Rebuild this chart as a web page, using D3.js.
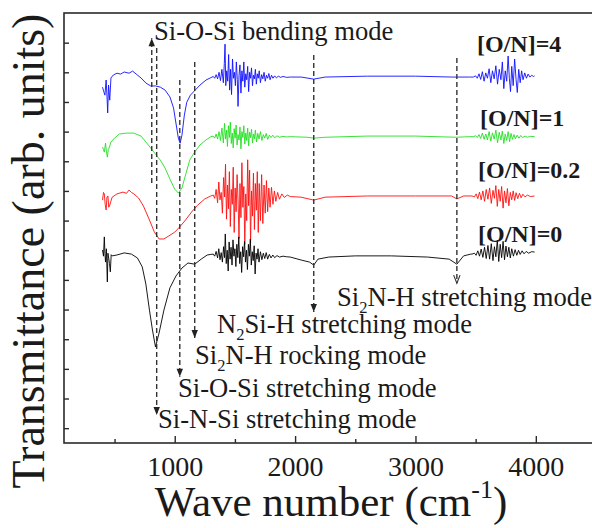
<!DOCTYPE html>
<html><head><meta charset="utf-8">
<script src="https://cdn.jsdelivr.net/npm/d3@7"></script>
<style>
body{margin:0;background:#fff}
svg{display:block}
text{font-family:"Liberation Serif","Times New Roman",serif;fill:#1a1a1a}
</style>
</head><body>
<svg id="chart" width="592" height="528"></svg>
<script>
// ---------------- data ----------------
const majorTicks = [1000, 2000, 3000, 4000];
const minorTicks = [500, 1500, 2500, 3500, 4500];
const yTickValues = d3.range(0.5, 14, 1);
const seriesNames = ["[O/N]=4", "[O/N]=1", "[O/N]=0.2", "[O/N]=0"];

// [wavenumber cm-1, transmittance (arb. units, offset)]
const specON4 = [[400,12.00],[410,11.85],[420,11.73],[430,12.24],[437,11.70],[443,11.13],[450,12.07],[460,11.56],[470,12.31],[490,12.41],[520,12.47],[550,12.44],[580,12.51],[620,12.47],[650,12.54],[680,12.44],[720,12.31],[760,12.14],[800,12.04],[840,12.04],[880,12.00],[920,11.90],[960,11.67],[990,11.30],[1010,10.79],[1030,10.28],[1045,10.11],[1060,10.38],[1080,11.06],[1100,11.49],[1130,11.73],[1170,11.90],[1210,12.07],[1260,12.24],[1300,12.32],
[1320,12.36],[1332,12.30],[1344,12.42],[1356,12.28],[1368,12.50],[1380,12.22],[1392,12.60],[1404,12.15],[1412,12.80],[1418,13.45],[1424,12.05],[1432,12.55],[1440,12.20],[1448,13.10],[1456,11.90],[1464,12.60],[1472,11.75],[1480,12.95],[1488,12.30],[1496,12.50],[1504,12.05],[1512,12.85],[1520,12.25],[1526,11.35],[1534,12.40],[1542,12.75],[1550,11.80],[1558,12.55],[1566,12.20],[1574,12.85],[1582,12.00],[1590,12.45],[1598,12.25],[1606,12.70],[1614,11.85],[1622,12.50],[1630,12.30],[1638,12.65],[1646,12.05],[1654,12.40],[1662,12.28],[1670,12.60],[1678,12.10],[1686,12.45],[1694,12.30],[1702,12.55],[1712,12.15],[1722,12.42],[1732,12.28],[1742,12.50],[1752,12.20],[1762,12.40],[1772,12.30],[1782,12.46],[1792,12.25],[1804,12.40],[1816,12.30],[1830,12.38],[1845,12.31],[1860,12.37],[1880,12.33],[1900,12.36],[1930,12.33],[1960,12.34],
[2050,12.34],[2155,12.27],[2250,12.34],[2600,12.37],[3000,12.37],[3300,12.34],[3450,12.34],
[3480,12.34],[3500,12.38],[3514,12.30],[3528,12.45],[3542,12.26],[3556,12.52],[3570,12.20],[3584,12.48],[3598,12.30],[3612,12.62],[3626,12.15],[3640,12.55],[3654,12.28],[3668,12.72],[3682,12.10],[3696,12.60],[3710,12.25],[3722,12.85],[3734,11.95],[3746,12.55],[3758,12.20],[3770,13.05],[3780,12.30],[3790,11.85],[3800,12.70],[3812,12.05],[3824,12.95],[3836,12.25],[3846,11.82],[3858,12.60],[3870,12.15],[3882,12.55],[3894,12.25],[3908,12.48],[3922,12.30],[3936,12.44],[3950,12.34],[3966,12.40],[3980,12.36],[3990,12.38]];

const specON1 = [[400,9.98],[408,9.90],[415,9.81],[425,10.11],[432,9.85],[440,9.64],[448,9.90],[455,9.95],[470,10.15],[500,10.28],[540,10.42],[600,10.45],[660,10.45],[720,10.35],[760,10.15],[800,9.95],[840,9.74],[880,9.54],[920,9.27],[960,8.90],[1000,8.56],[1030,8.43],[1060,8.60],[1090,9.04],[1125,9.54],[1165,9.81],[1210,10.05],[1260,10.22],[1300,10.33],
[1320,10.35],[1332,10.28],[1344,10.42],[1356,10.25],[1368,10.50],[1380,10.20],[1392,10.62],[1404,10.12],[1414,10.78],[1422,10.25],[1430,10.55],[1438,10.00],[1446,10.70],[1454,10.30],[1462,10.82],[1470,10.10],[1478,10.45],[1486,9.95],[1494,10.60],[1502,10.28],[1510,10.72],[1518,10.05],[1526,10.40],[1534,10.22],[1542,10.66],[1550,9.92],[1558,10.50],[1566,10.30],[1574,10.70],[1582,10.08],[1590,10.45],[1598,10.20],[1606,10.62],[1614,10.02],[1622,10.48],[1630,10.30],[1638,10.58],[1646,10.12],[1654,10.42],[1662,10.26],[1670,10.55],[1680,10.15],[1690,10.44],[1700,10.25],[1712,10.50],[1724,10.20],[1736,10.40],[1748,10.28],[1760,10.44],[1772,10.24],[1786,10.38],[1800,10.30],[1815,10.38],[1830,10.29],[1850,10.36],[1870,10.31],[1900,10.34],[1930,10.32],[1960,10.33],
[2100,10.31],[2155,10.28],[2250,10.31],[2600,10.35],[3000,10.35],[3340,10.31],[3450,10.33],
[3480,10.33],[3500,10.36],[3514,10.30],[3528,10.40],[3542,10.27],[3556,10.45],[3570,10.24],[3584,10.42],[3598,10.22],[3612,10.50],[3626,10.18],[3640,10.46],[3654,10.25],[3668,10.55],[3682,10.12],[3696,10.48],[3710,10.22],[3722,10.52],[3734,10.10],[3746,10.42],[3758,10.20],[3770,10.50],[3782,10.16],[3794,10.44],[3806,10.24],[3818,10.40],[3830,10.26],[3845,10.38],[3860,10.28],[3875,10.37],[3890,10.30],[3910,10.35],[3930,10.31],[3955,10.34],[3990,10.33]];

const specON02 = [[400,8.19],[408,8.45],[415,8.40],[422,8.05],[430,7.86],[437,8.30],[445,8.33],[452,7.95],[460,8.02],[480,8.29],[520,8.40],[570,8.46],[600,8.42],[620,8.53],[640,8.45],[660,8.40],[700,8.26],[740,7.99],[790,7.52],[830,7.12],[870,6.88],[910,6.88],[950,6.98],[1000,7.11],[1040,7.28],[1090,7.52],[1140,7.79],[1190,8.02],[1250,8.23],[1300,8.33],
[1320,8.36],[1332,8.25],[1344,8.55],[1356,8.10],[1366,8.80],[1376,8.20],[1386,8.45],[1396,7.75],[1406,8.95],[1414,8.30],[1422,9.40],[1430,7.55],[1438,8.70],[1446,7.90],[1454,9.15],[1462,7.30],[1470,8.55],[1478,8.05],[1486,9.30],[1494,7.10],[1502,8.60],[1510,7.80],[1518,9.05],[1526,8.20],[1534,6.90],[1542,8.75],[1550,7.60],[1558,9.45],[1566,7.95],[1574,8.65],[1582,6.70],[1590,8.40],[1598,7.50],[1606,9.55],[1614,8.00],[1622,9.20],[1630,6.75],[1638,8.50],[1646,7.65],[1654,9.10],[1662,7.20],[1670,8.75],[1678,7.85],[1686,9.15],[1694,7.10],[1702,8.75],[1712,7.50],[1722,9.05],[1732,7.40],[1742,8.70],[1752,7.75],[1762,8.85],[1772,7.80],[1782,8.60],[1792,7.95],[1804,8.62],[1816,8.05],[1828,8.50],[1840,8.15],[1855,8.45],[1870,8.22],[1890,8.40],[1910,8.28],[1935,8.36],[1960,8.31],
[2050,8.29],[2155,8.19],[2250,8.29],[2600,8.33],[3000,8.33],[3300,8.33],[3344,8.23],[3400,8.33],
[3470,8.33],[3490,8.30],[3504,8.40],[3518,8.24],[3532,8.46],[3546,8.20],[3560,8.50],[3574,8.15],[3588,8.55],[3602,8.22],[3616,8.60],[3630,8.08],[3644,8.52],[3656,8.25],[3668,8.68],[3680,7.98],[3692,8.55],[3704,8.15],[3716,8.65],[3728,7.92],[3740,8.50],[3752,8.10],[3764,8.58],[3776,8.00],[3788,8.45],[3800,8.20],[3812,8.50],[3824,8.18],[3836,8.44],[3850,8.24],[3864,8.42],[3878,8.27],[3892,8.39],[3910,8.30],[3930,8.36],[3955,8.31],[3990,8.33]];

const specON0 = [[400,6.51],[408,6.30],[415,6.95],[420,6.40],[425,6.10],[432,6.55],[440,5.43],[445,6.40],[450,6.27],[458,6.05],[465,5.77],[472,6.35],[480,6.31],[520,6.34],[580,6.41],[640,6.37],[690,6.24],[730,5.94],[760,5.36],[790,4.48],[815,3.81],[840,3.24],[870,3.71],[910,4.48],[960,5.23],[1010,5.63],[1060,5.90],[1110,6.07],[1166,6.03],[1220,6.20],[1270,6.34],[1300,6.36],
[1320,6.37],[1332,6.30],[1344,6.46],[1356,6.24],[1366,6.55],[1376,6.18],[1386,6.42],[1396,6.10],[1406,6.62],[1414,6.25],[1420,7.05],[1428,6.05],[1436,6.50],[1444,5.80],[1452,6.78],[1460,6.20],[1468,6.60],[1476,6.00],[1484,6.85],[1492,6.30],[1500,6.55],[1508,5.95],[1516,6.70],[1524,6.25],[1532,6.95],[1540,6.05],[1548,6.45],[1556,5.75],[1564,6.62],[1572,6.28],[1580,6.80],[1588,6.10],[1596,6.50],[1604,5.85],[1612,6.70],[1620,6.30],[1628,6.88],[1636,6.00],[1644,6.45],[1652,6.15],[1660,6.65],[1668,5.70],[1676,6.40],[1684,6.20],[1692,6.55],[1700,6.10],[1712,6.45],[1724,6.18],[1736,6.40],[1748,6.22],[1760,6.42],[1772,6.20],[1786,6.36],[1800,6.24],[1815,6.34],[1830,6.25],[1850,6.32],[1870,6.27],[1900,6.30],[1930,6.28],[1960,6.27],
[2050,6.17],[2120,6.10],[2155,6.00],[2190,6.20],[2280,6.27],[2500,6.31],[2800,6.31],[3100,6.27],[3280,6.20],[3344,6.03],[3400,6.31],[3460,6.37],
[3470,6.37],[3490,6.40],[3504,6.33],[3518,6.48],[3532,6.30],[3546,6.54],[3560,6.26],[3574,6.60],[3588,6.22],[3602,6.66],[3616,6.20],[3630,6.72],[3644,6.15],[3656,6.62],[3668,6.28],[3680,6.84],[3692,6.12],[3704,6.70],[3716,6.25],[3728,6.80],[3740,6.18],[3752,6.64],[3764,6.28],[3776,6.60],[3788,6.24],[3800,6.55],[3814,6.30],[3828,6.52],[3842,6.33],[3856,6.50],[3870,6.36],[3886,6.48],[3902,6.38],[3920,6.46],[3940,6.40],[3965,6.45],[3990,6.44]];

// vibrational mode markers: wavenumber, line start / end (arb. units)
const modeNames = ["Si-O-Si bending mode","Si-N-Si stretching mode","Si-O-Si stretching mode","Si2N-H rocking mode","N2Si-H stretching mode","Si2N-H stretching mode"];
const modeWavenumbers = [809, 850, 1042, 1166, 2155, 3344];
const modeLineFrom = [8.77, 13.32, 12.24, 12.85, 13.08, 12.98];
const modeLineTo = [13.65, 0.94, 2.23, 3.54, 4.42, 5.39];

// ---------------- layout ----------------
const svg = d3.select("#chart");
const plot = {left: 64, right: 596, top: 13, bottom: 443};
const x = d3.scaleLinear().domain([80, 4500]).range([plot.left, plot.right]);
const y = d3.scaleLinear().domain([0, 14.5]).range([plot.bottom, plot.top]);
const colors = ["#1010ff", "#22e022", "#ff1010", "#000000"];
const specs = [specON4, specON1, specON02, specON0];

// frame
svg.append("rect").attr("x", plot.left).attr("y", plot.top)
  .attr("width", plot.right - plot.left).attr("height", plot.bottom - plot.top)
  .attr("fill", "none").attr("stroke", "#2a2a2a").attr("stroke-width", 1.6);

// y ticks (inward, no labels)
const yAx = svg.append("g").attr("transform", `translate(${plot.left},0)`)
  .call(d3.axisRight(y).tickValues(yTickValues).tickSize(5).tickFormat(""));
yAx.select(".domain").remove();
yAx.selectAll("line").attr("stroke", "#2a2a2a").attr("stroke-width", 1.4);

// x minor ticks
const xMin = svg.append("g").attr("transform", `translate(0,${plot.bottom})`)
  .call(d3.axisBottom(x).tickValues(minorTicks).tickSize(-4).tickFormat(""));
xMin.select(".domain").remove();
xMin.selectAll("line").attr("stroke", "#2a2a2a").attr("stroke-width", 1.4);

// x major ticks with labels
const xAx = svg.append("g").attr("transform", `translate(0,${plot.bottom})`)
  .call(d3.axisBottom(x).tickValues(majorTicks).tickSize(-7).tickPadding(13).tickFormat(d3.format("d")));
xAx.select(".domain").remove();
xAx.selectAll("line").attr("stroke", "#2a2a2a").attr("stroke-width", 1.4);
xAx.selectAll("text").attr("font-family", "Liberation Serif, Times New Roman, serif")
  .attr("font-size", 28).attr("fill", "#1a1a1a");

// spectra
const line = d3.line().x(d => x(d[0])).y(d => y(d[1]));
specs.forEach((s, i) => {
  svg.append("path").datum(s).attr("d", line)
    .attr("fill", "none").attr("stroke", colors[i]).attr("stroke-width", 0.9)
    .attr("stroke-linejoin", "round");
});

// dashed mode markers with arrows
modeWavenumbers.forEach((w, i) => {
  const px = x(w), y1 = y(modeLineFrom[i]), y2 = y(modeLineTo[i]);
  svg.append("line").attr("x1", px).attr("x2", px).attr("y1", y1).attr("y2", y2)
    .attr("stroke", "#333").attr("stroke-width", 1.4).attr("stroke-dasharray", "5,3");
  const dir = y2 > y1 ? 1 : -1;
  const p = `M${px-3.2},${y2 - dir*8} L${px},${y2} L${px+3.2},${y2 - dir*8}`;
  if (i === 5) {
    svg.append("path").attr("d", p).attr("fill", "none").attr("stroke", "#333").attr("stroke-width", 1.1);
  } else {
    svg.append("path").attr("d", p + " Z").attr("fill", "#222");
  }
});

// mode labels (with subscripts)
function richText(t, parts, size) {
  parts.forEach(p => {
    if (p[1] === "sub") {
      t.append("tspan").attr("font-size", size * 0.62).attr("dy", size * 0.28).text(p[0]);
    } else if (p[1] === "back") {
      t.append("tspan").attr("font-size", size).attr("dy", -size * 0.28).text(p[0]);
    } else {
      t.append("tspan").attr("font-size", size).text(p[0]);
    }
  });
}
const modeLabelParts = [
  [["Si-O-Si bending mode",""]],
  [["Si-N-Si stretching mode",""]],
  [["Si-O-Si stretching mode",""]],
  [["Si",""],["2","sub"],["N-H rocking mode","back"]],
  [["N",""],["2","sub"],["Si-H stretching mode","back"]],
  [["Si",""],["2","sub"],["N-H stretching mode","back"]]
];
const modeLabelPos = [[154,40],[158,428],[178,397],[195,364],[217,333],[337,306]];
modeLabelParts.forEach((parts, i) => {
  const t = svg.append("text").attr("x", modeLabelPos[i][0]).attr("y", modeLabelPos[i][1]);
  richText(t, parts, 26.6);
});

// series labels
const seriesLabelPos = [[477,52],[480,126],[478,178],[478,242]];
seriesNames.forEach((n, i) => {
  svg.append("text").attr("x", seriesLabelPos[i][0]).attr("y", seriesLabelPos[i][1])
    .attr("font-size", 24).attr("font-weight", "bold").text(n);
});

// axis titles
const xt = svg.append("text").attr("x", 331).attr("y", 516).attr("text-anchor", "middle").attr("font-size", 43);
xt.append("tspan").text("Wave number (cm");
xt.append("tspan").attr("font-size", 26).attr("dy", -18).text("-1");
xt.append("tspan").attr("dy", 18).text(")");

svg.append("text").attr("transform", "translate(44,251) rotate(-90)")
  .attr("text-anchor", "middle").attr("font-size", 46).text("Transmittance (arb. units)");
</script>
</body></html>
